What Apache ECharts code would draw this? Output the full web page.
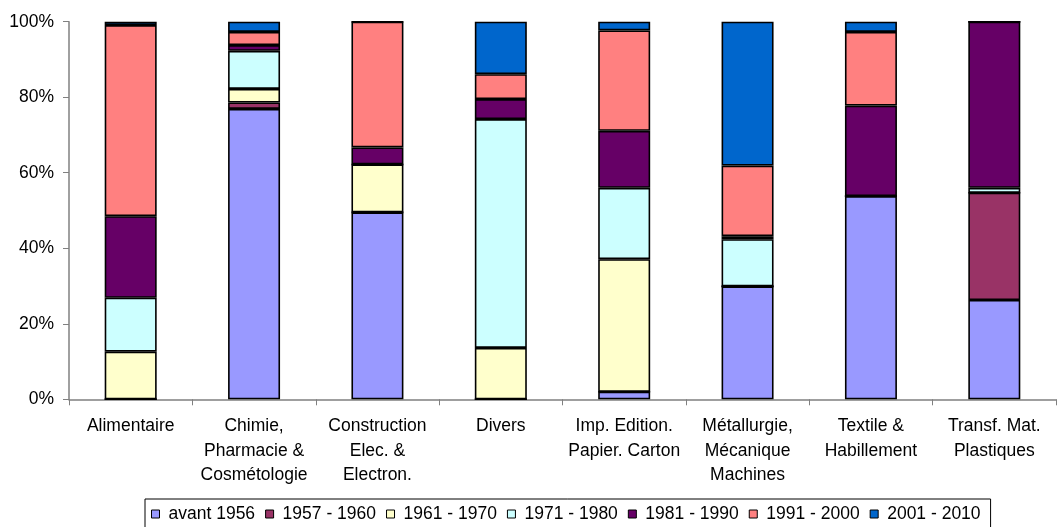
<!DOCTYPE html>
<html>
<head>
<meta charset="utf-8">
<script src="https://cdn.jsdelivr.net/npm/echarts@6/dist/echarts.min.js"></script>
<style>
  html, body { margin: 0; padding: 0; background: #fff; }
  #root { width: 1058px; height: 527px; }
</style>
</head>
<body>
<div id="root"></div>
<script>
var categories = ['Alimentaire', 'Chimie,\nPharmacie &\nCosmétologie', 'Construction\nElec. &\nElectron.', 'Divers',
  'Imp. Edition.\nPapier. Carton', 'Métallurgie,\nMécanique\nMachines', 'Textile &\nHabillement', 'Transf. Mat.\nPlastiques']

var periods = ['avant 1956', '1957 - 1960', '1961 - 1970', '1971 - 1980', '1981 - 1990', '1991 - 2000', '2001 - 2010']
var colors = ['#9999FF', '#993366', '#FFFFCC', '#CCFFFF', '#660066', '#FF8080', '#0066CC']

// share (%) of each period, per category
var avant1956 = [0, 76.9, 49.5, 0, 2.0, 29.9, 53.8, 26.3]
var p1957 = [0, 1.7, 0, 0, 0, 0, 0, 28.4]
var p1961 = [12.6, 3.6, 12.7, 13.6, 35.1, 0, 0, 0]
var p1971 = [14.3, 10.1, 0, 60.6, 18.9, 12.5, 0, 1.3]
var p1981 = [21.6, 1.5, 4.5, 5.3, 15.1, 0.8, 24.0, 44.0]
var p1991 = [50.6, 3.5, 33.3, 6.6, 26.6, 18.7, 19.5, 0]
var p2001 = [0.9, 2.7, 0, 13.9, 2.3, 38.1, 2.7, 0]

var yTicks = [0, 20, 40, 60, 80, 100]

var values = [avant1956, p1957, p1961, p1971, p1981, p1991, p2001]

var font = 'Liberation Sans, Arial, sans-serif'
var chart = echarts.init(document.getElementById('root'))

var series = []
for (var i = 0; i < periods.length; i++) {
  series.push({
    name: periods[i],
    type: 'bar',
    stack: 'total',
    barWidth: 52,
    data: values[i],
    itemStyle: { color: colors[i], borderColor: '#000', borderWidth: 1.6 }
  })
}

chart.setOption({
  animation: false,
  color: colors,
  textStyle: { fontFamily: font },
  grid: { left: 69, right: 2, top: 21.7, bottom: 127.7 },
  legend: {
    data: periods,
    left: 145,
    top: 499,
    padding: [6, 10, 6, 6],
    itemWidth: 8,
    itemHeight: 8,
    itemGap: 10,
    icon: 'rect',
    borderColor: '#000',
    borderWidth: 1,
    itemStyle: { borderColor: '#000', borderWidth: 1 },
    textStyle: { fontSize: 17.5, color: '#000', lineHeight: 18, padding: [0, 0, 0, 4], fontFamily: font }
  },
  xAxis: {
    type: 'category',
    data: categories,
    axisLine: { lineStyle: { color: '#808080', width: 1.5 } },
    axisTick: { show: true, length: 6, lineStyle: { color: '#808080' } },
    axisLabel: { color: '#000', fontSize: 17.5, lineHeight: 24.5, margin: 15, interval: 0, fontFamily: font }
  },
  yAxis: {
    type: 'value',
    min: yTicks[0],
    max: yTicks[yTicks.length - 1],
    interval: 20,
    splitLine: { show: false },
    axisLine: { show: true, lineStyle: { color: '#808080', width: 1.5 } },
    axisTick: { show: true, length: 6, lineStyle: { color: '#808080' } },
    axisLabel: { color: '#000', fontSize: 17.5, margin: 15, formatter: '{value}%', fontFamily: font }
  },
  series: series
})
</script>
</body>
</html>
